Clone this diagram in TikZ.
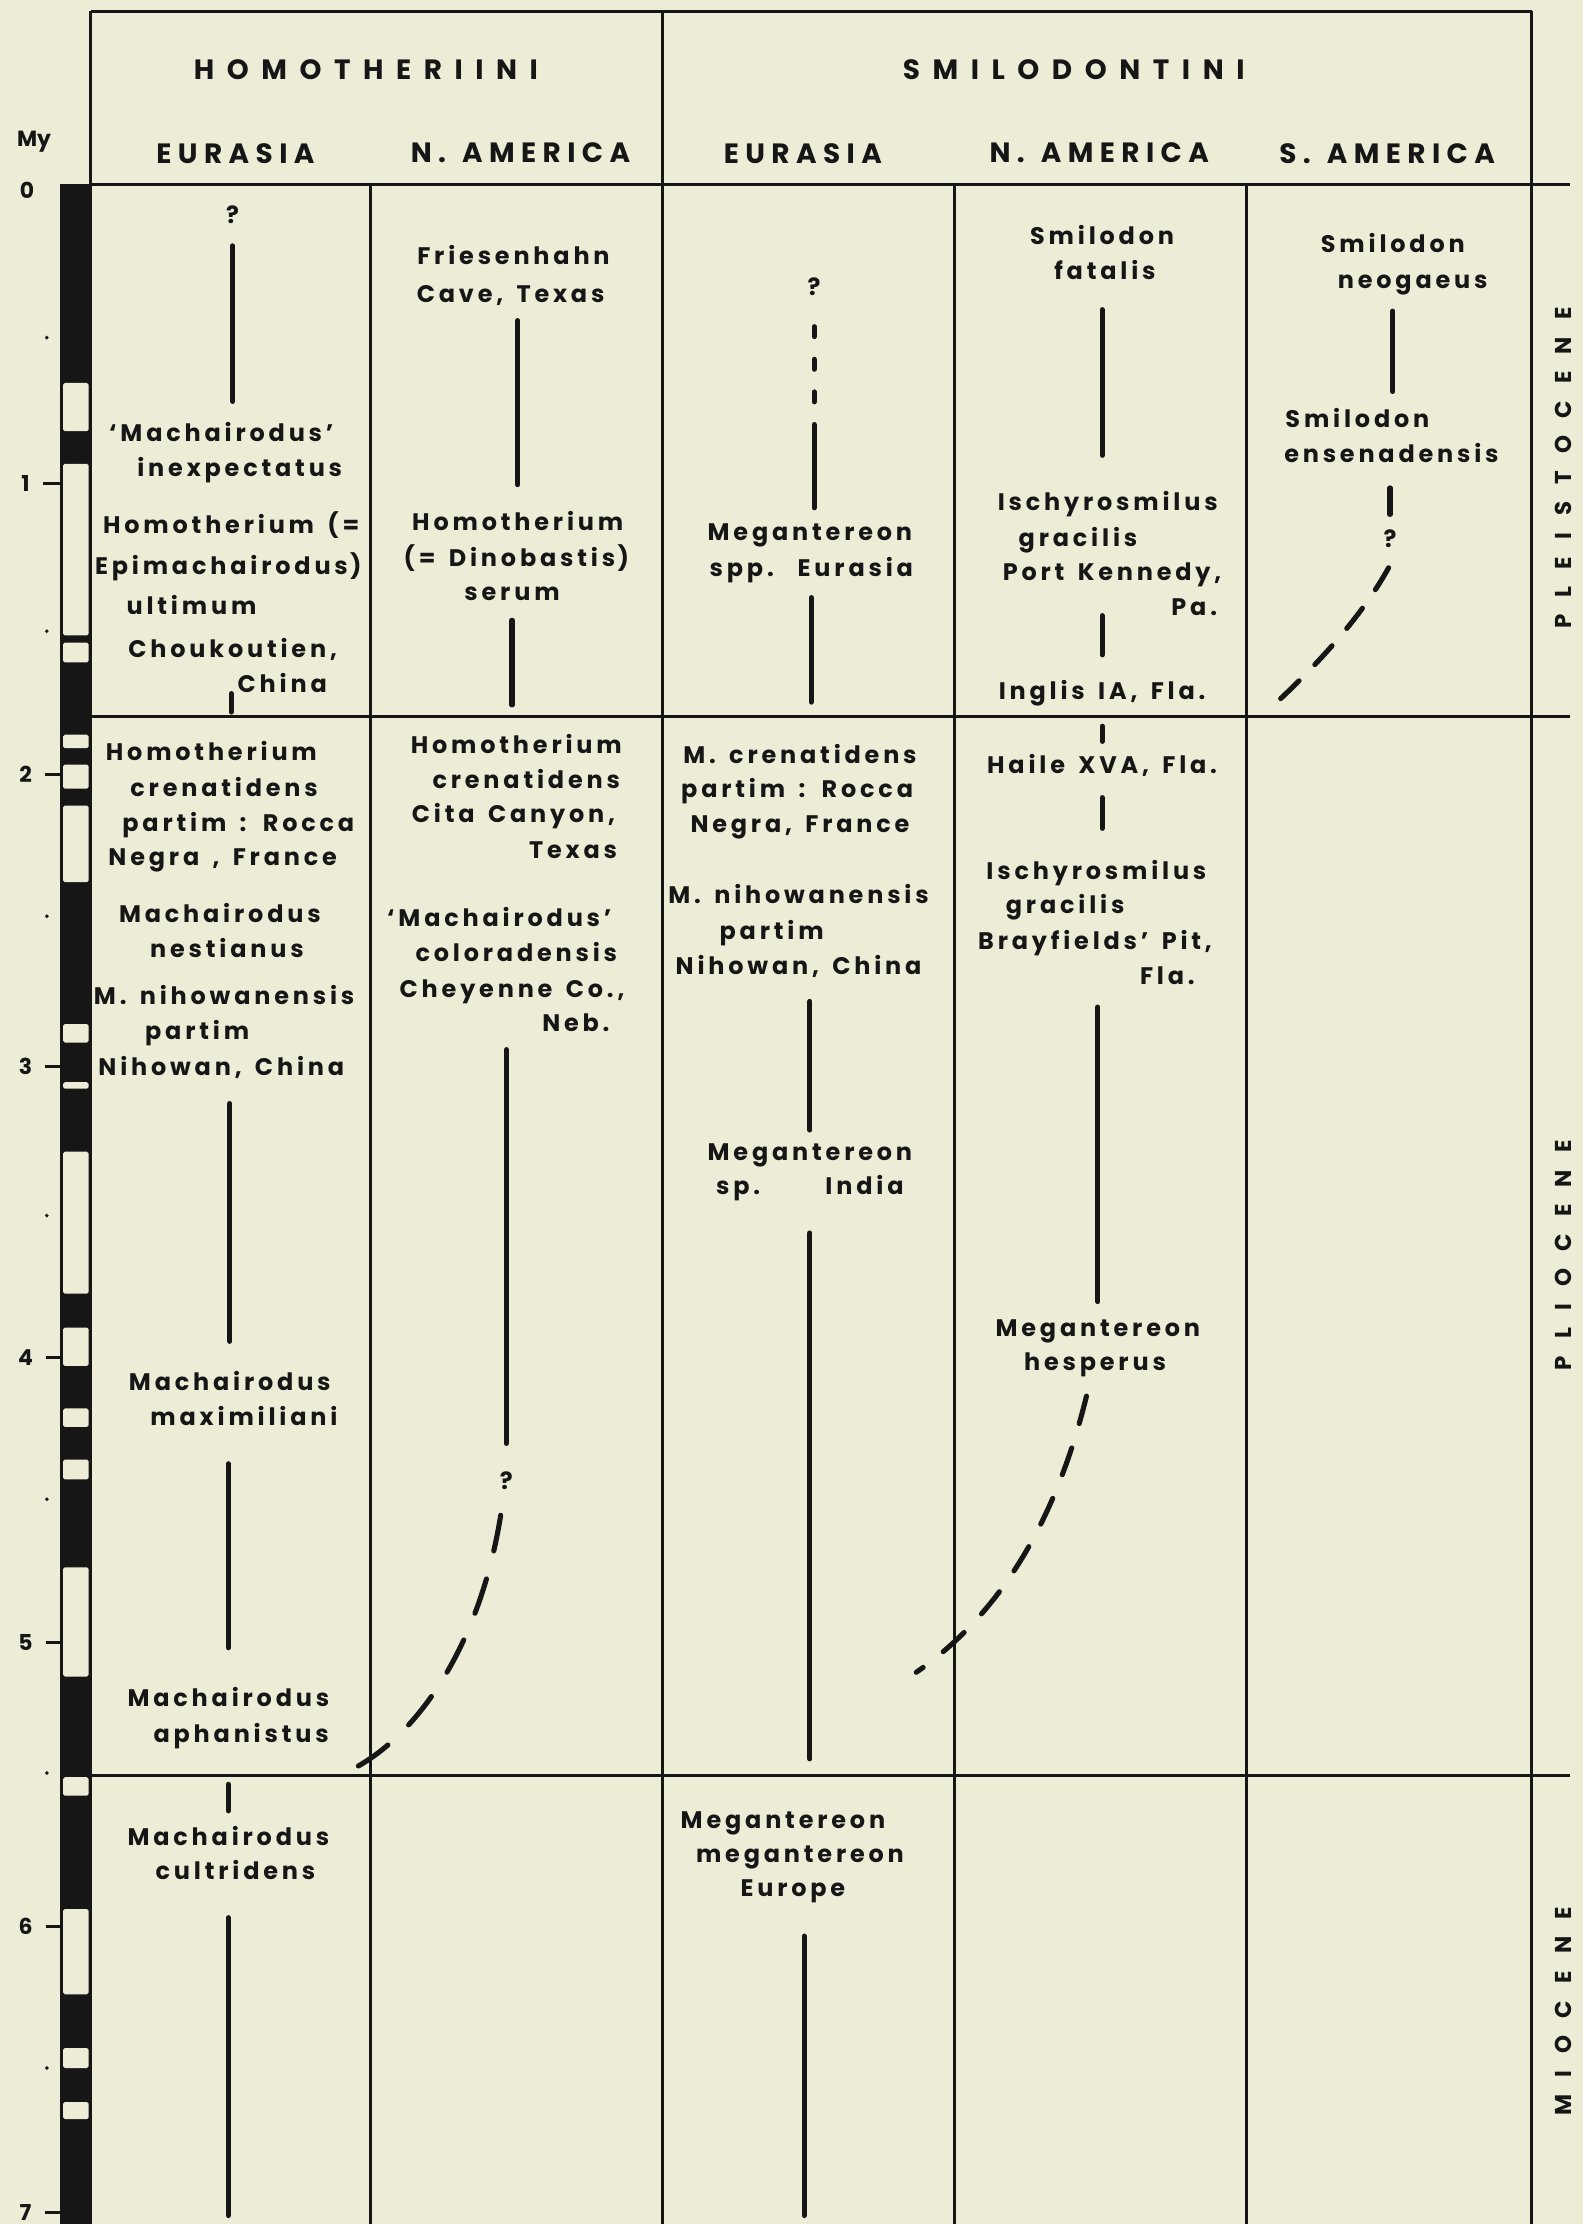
\documentclass[tikz,border=0pt]{standalone}
\usepackage{fontspec}
\setmainfont{Poppins}
\newfontfamily\bodyfont{Poppins}[LetterSpace=16, WordSpace=1.5]
\newfontfamily\tribefont{Poppins}[LetterSpace=45]
\newfontfamily\regionfont{Poppins}[LetterSpace=23, WordSpace=1.3]
\newfontfamily\epochfont{Poppins}[LetterSpace=75]
\definecolor{paper}{HTML}{EDECD6}
\definecolor{ink}{HTML}{161616}

\begin{document}
\begin{tikzpicture}[x=0.25mm, y=-0.25mm,
  gridline/.style={ink, line width=0.5mm},
  lin/.style={ink, line width=0.9mm, line cap=round},
  ends/.style 2 args={shorten <=#1*0.25mm, shorten >=#2*0.25mm},
  lbl/.style={inner sep=0pt, text=ink, font=\bodyfont\bfseries\fontsize{12}{14}\selectfont, text height=8pt, text depth=2pt},
  tribe/.style={inner sep=0pt, text=ink, font=\tribefont\bfseries\fontsize{14}{16}\selectfont},
  region/.style={inner sep=0pt, text=ink, font=\regionfont\bfseries\fontsize{14}{16}\selectfont},
  epoch/.style={inner sep=0pt, text=ink, rotate=90, font=\epochfont\bfseries\fontsize{11.5}{13}\selectfont},
  scalelbl/.style={inner sep=0pt, text=ink, font=\bfseries\fontsize{11}{13}\selectfont}]

  \fill[paper] (0,0) rectangle (1116,1568);
  \useasboundingbox (0,0) rectangle (1116,1568);

  \fill[ink] (42,130) rectangle (65,1568);
  \foreach \a/\b in {270/304, 327/448, 453/467, 518/527.5, 539/556, 568/622, 722/735, 763/767.5,
    812/912, 936/963, 993/1006, 1029/1043, 1105/1182, 1253/1266, 1346/1406, 1444/1458, 1482/1494}
    \fill[paper, rounded corners=0.3mm] (44.5,\a) rectangle (62.5,\b);
  \foreach \y in {238, 445, 646, 857, 1057, 1250, 1458}
    \fill[ink] (33,\y) circle (0.35mm);
  \node[scalelbl] (my) at (24,100) {My};
  \node[scalelbl] (my0) at (19,134) {0};
  \foreach \t/\y in {1/341, 2/546, 3/752, 4/957, 5/1158, 6/1358, 7/1560} {
    \node[scalelbl] (my\t) at (18,\y) {\t};
    \draw[gridline] (my\t.east) ++(9,0) -- (42,\y);
  }

  \draw[gridline] (64,8) -- (1080,8);
  \draw[gridline] (64,8) -- (64,1568);
  \draw[gridline] (1080,8) -- (1080,1568);
  \draw[gridline] (467,8) -- (467,1568);
  \foreach \x in {261, 673, 879}
    \draw[gridline] (\x,130) -- (\x,1568);
  \foreach \y in {130, 505, 1252}
    \draw[gridline] (64,\y) -- (1107,\y);

  \node[tribe] (hom) at (258,49) {HOMOTHERIINI};
  \node[tribe] (smi) at (757,49) {SMILODONTINI};
  \node[region] (eu1) at (166,108) {EURASIA};
  \node[region] (na1) at (367,108) {N. AMERICA};
  \node[region] (eu2) at (566,108) {EURASIA};
  \node[region] (na2) at (775,108) {N. AMERICA};
  \node[region] (sa) at (978,108) {S. AMERICA};
  \node[epoch] (ple) at (1102,330) {PLEISTOCENE};
  \node[epoch] (pli) at (1102,885) {PLIOCENE};
  \node[epoch] (mio) at (1102,1418) {MIOCENE};

  \foreach \nm/\x/\y/\txt in {he0/164/153/?, he1/156/307/‘Machairodus’, he2/169/332/inexpectatus,
    he3/163/372/Homotherium (=, he4/161/401/Epimachairodus\hspace{.1em}), he5/135/429/ultimum,
    {he6/164/459/Choukoutien,}, he7/199/484/China, he8/149/532/Homotherium,
    he9/158/557/crenatidens, he10/168/582/partim : Rocca, {he11/157/606/Negra , France},
    he12/155/646/Machairodus, he13/160/671/nestianus, he14/158/704/M. nihowanensis,
    he15/139/729/partim, {he16/156/754/Nihowan, China}, he17/162/976/Machairodus,
    he18/172/1001/maximiliani, he19/161/1199/Machairodus, he20/170/1224/aphanistus,
    he21/161/1297/Machairodus, he22/166/1321/cultridens,
    hn1/362/182/Friesenhahn, {hn2/360/209/Cave, Texas}, hn3/365/370/Homotherium,
    hn4/364/395/(= Dinobastis\hspace{.1em}), hn5/361/419/serum, hn6/364/527/Homotherium,
    hn7/371/552/crenatidens, {hn8/362/576/Cita Canyon,}, hn9/404/601/Texas,
    hn10/352/649/‘Machairodus’, hn11/364/674/coloradensis, {hn12/361/699/Cheyenne Co.,},
    hn13/406/723/Neb., hn14/357/1046/?,
    se0/574/204/?, se1/571/377/Megantereon, se2/572/402/spp.\hspace{1em}Eurasia,
    se3/564/534/M. crenatidens, se4/562/558/partim : Rocca, {se5/564/583/Negra, France},
    se6/563/633/M. nihowanensis, se7/544/658/partim, {se8/563/683/Nihowan, China},
    se9/571/814/Megantereon, se10/571/838/sp.\hspace{11.5mm}India,
    se11/552/1285/Megantereon, se12/564/1309/megantereon, se13/559/1333/Europe,
    sn1/777/168/Smilodon, sn2/779/193/fatalis, sn3/781/356/Ischyrosmilus,
    sn4/760/381/gracilis, {sn5/784/405/Port Kennedy,}, sn6/842/430/Pa.,
    {sn7/777/489/Inglis IA, Fla.}, {sn8/777/541/Haile XVA, Fla.}, sn9/773/616/Ischyrosmilus,
    sn10/751/640/gracilis, {sn11/772/665/Brayfields’ Pit,}, sn12/823/690/Fla.,
    sn13/774/938/Megantereon, sn14/772/962/hesperus,
    ss1/982/174/Smilodon, ss2/996/199/neogaeus, ss3/957/297/Smilodon,
    ss4/981/322/ensenadensis, ss5/980/382/?}
    \node[lbl] (\nm) at (\x,\y) {\txt};

  \coordinate (hc) at (163,502);
  \coordinate (hb) at (161,1562);
  \coordinate (hnc) at (251,1246);
  \coordinate (sb) at (567,1562);
  \coordinate (snc) at (646,1179);
  \coordinate (ssc) at (896,499);

  \draw[lin, ends={13}{24}] (he0) -- (he0 |- he1);
  \draw[lin, ends={0}{30}] (hc) -- (hc |- he6);
  \draw[lin, ends={23}{24}] (he17) -- (he17 |- he16);
  \draw[lin, ends={30}{31}] (he19) -- (he19 |- he18);
  \draw[lin, ends={13}{34}] (he21) -- (he21 |- he20);
  \draw[lin, ends={0}{31}] (hb) -- (hb |- he22);

  \draw[lin, ends={21}{17}] (hn3) -- (hn3 |- hn2);
  \draw[lin, ends={11}{30}] (hn5) -- (hn5 |- hn6);
  \draw[lin, ends={21}{17}] (hn14) -- (hn14 |- hn13);
  \draw[lin, dash pattern=on 6.4mm off 5.1mm] (hn14.south) ++(-4,15) .. controls (339,1156) and (298,1220) .. (hnc);

  \draw[lin, ends={19}{19}, dash pattern=on 1.75mm off 4mm on 1.75mm off 4mm on 1.75mm off 4mm on 40mm off 1mm] (se0) -- (se0 |- se1);
  \draw[lin, ends={12}{39}] (se2) -- (se2 |- se3);
  \draw[lin, ends={10}{23}] (se9) -- (se9 |- se8);
  \draw[lin, ends={24}{45}] (se10) -- (se10 |- se11);
  \draw[lin, ends={0}{32}] (sb) -- (sb |- se13);

  \draw[lin, ends={43}{35}] (sn1) -- (sn1 |- sn3);
  \draw[lin, ends={20}{29}] (sn7) -- (sn7 |- sn5);
  \draw[lin, ends={11}{23}] (sn8) -- (sn8 |- sn7);
  \draw[lin, ends={14}{32}] (sn8) -- (sn8 |- sn9);
  \draw[lin, ends={13}{20}] (sn13) -- (sn13 |- sn12);
  \draw[lin, dash pattern=on 5mm off 4.5mm] (sn14.south) ++(-6,15) .. controls (744,1074) and (704,1139) .. (snc);

  \draw[lin, ends={38}{21}] (ss1) -- (ss1 |- ss3);
  \draw[lin, ends={12}{22}] (ss5) -- (ss5 |- ss4);
  \draw[lin, dash pattern=on 4.5mm off 4mm] (ss5.south) ++(-1,11) .. controls (962,431) and (934,464) .. (ssc);
\end{tikzpicture}
\end{document}
